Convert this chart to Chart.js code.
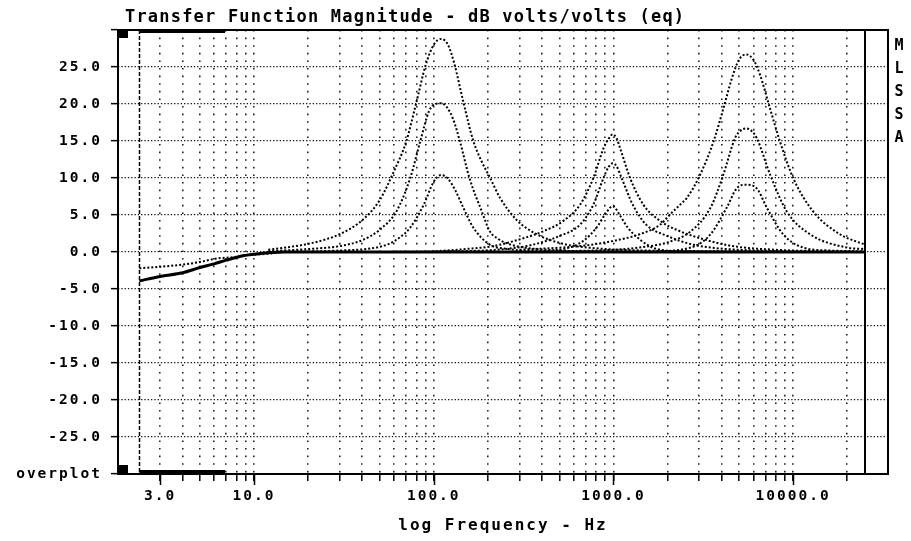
<!DOCTYPE html>
<html lang="en">
<head>
    <meta charset="UTF-8">
    <title>Transfer Function Magnitude</title>
    <style>
        html, body {
            margin: 0;
            padding: 0;
            background-color: #fff;
        }
        .chart-box {
            position: relative;
            width: 911px;
            height: 541px;
        }
    </style>
</head>
<body>
    <div class="chart-box">
        <canvas id="tf-chart"></canvas>
    </div>

    <script src="https://cdn.jsdelivr.net/npm/chart.js"></script>

    <script>
        // axes
        const xMin = 1.75;
        const xMax = 33700;
        const xTickValues = [3, 4, 5, 6, 7, 8, 9, 10, 20, 30, 40, 50, 60, 70, 80, 90, 100,
            200, 300, 400, 500, 600, 700, 800, 900, 1000,
            2000, 3000, 4000, 5000, 6000, 7000, 8000, 9000, 10000, 20000];
        const xLabelValues = [3, 10, 100, 1000, 10000];
        const yMin = -30;
        const yMax = 30;
        const yStep = 5;

        // sweep limits / cursor bar
        const sweepStart = 2.3;
        const sweepEnd = 25000;
        const cursorBar = [2.3, 6.9];

        const titleText = 'Transfer Function Magnitude - dB volts/volts (eq)';
        const axisTitle = 'log Frequency - Hz';
        const sideLetters = ['M', 'L', 'S', 'S', 'A'];

        // flat reference (several overlapping traces)
        const baseFreq = [2.3, 3, 4, 5, 6, 7, 8.7, 10, 12, 15, 20, 25000];
        const baseDb = [-3.9, -3.3, -2.8, -2.1, -1.6, -1.1, -0.5, -0.3, -0.1, 0, 0, 0];

        // upper low-frequency trace
        const lfFreq = [2.3, 3, 4, 5, 6.1, 7.6, 9, 11.8, 15, 20];
        const lfDb = [-2.2, -2.0, -1.7, -1.35, -0.9, -0.7, -0.45, -0.25, 0, 0];

        // 110 Hz band
        const freqA = [12, 15, 20, 25, 30, 40, 50, 60, 70, 80, 90, 100, 110, 120, 130, 146, 166, 185, 206, 234, 290, 374, 525, 800, 1500, 4000, 25000];
        const dbA = [0.3, 0.6, 1.1, 1.7, 2.4, 4.3, 7.0, 10.9, 14.8, 20.2, 25.2, 28.0, 28.8, 28.0, 25.5, 20.3, 15.0, 12.2, 10.0, 7.3, 4.3, 2.4, 1.1, 0.5, 0.2, 0.1, 0];

        const freqB = [12, 20, 30, 40, 50, 62, 74, 84, 94, 102, 110, 118, 128, 140, 158, 185, 205, 224, 260, 320, 420, 700, 25000];
        const dbB = [0.1, 0.4, 0.8, 1.6, 3.0, 5.5, 10.0, 14.9, 19.0, 20.0, 20.1, 19.6, 18.0, 14.9, 10.0, 5.5, 2.8, 1.9, 1.1, 0.6, 0.3, 0.1, 0];

        const freqC = [12, 30, 45, 55, 65, 74, 88, 100, 110, 120, 132, 146, 166, 205, 260, 400, 25000];
        const dbC = [0, 0.2, 0.5, 1.0, 2.0, 3.3, 6.4, 9.5, 10.4, 9.9, 8.3, 6.0, 3.3, 1.0, 0.4, 0.1, 0];

        // 1 kHz band
        const freqD1 = [50, 100, 150, 214, 300, 407, 526, 652, 773, 880, 940, 990, 1040, 1090, 1237, 1466, 1820, 2350, 3200, 4600, 8000, 25000];
        const dbD1 = [0, 0.1, 0.4, 0.8, 1.7, 2.8, 4.2, 6.4, 10.0, 14.0, 15.3, 15.9, 15.4, 14.0, 10.0, 6.4, 4.2, 2.8, 1.7, 0.8, 0.3, 0];

        const freqD2 = [100, 250, 358, 505, 652, 773, 880, 940, 990, 1040, 1110, 1280, 1520, 1980, 2770, 5000, 25000];
        const dbD2 = [0, 0.4, 1.0, 2.2, 3.7, 6.4, 10.0, 11.5, 12.0, 11.6, 10.0, 6.4, 3.7, 2.2, 1.0, 0.3, 0];

        const freqD3 = [300, 526, 680, 805, 900, 990, 1090, 1200, 1400, 1740, 2500, 25000];
        const dbD3 = [0, 0.4, 1.5, 3.3, 5.1, 6.2, 4.9, 3.3, 1.7, 0.4, 0.1, 0];

        // 5.5 kHz band
        const freqE1 = [300, 650, 1000, 1400, 1820, 2070, 2350, 2560, 3030, 3600, 4090, 4550, 5000, 5470, 6000, 6550, 7430, 8450, 10000, 12900, 18200, 25000];
        const dbE1 = [0.3, 0.8, 1.5, 2.4, 3.7, 5.1, 6.4, 7.3, 10.4, 14.9, 19.4, 23.4, 26.0, 26.7, 26.0, 23.9, 19.4, 14.9, 10.0, 5.5, 2.4, 1.0];

        const freqE2 = [500, 1000, 1500, 2000, 2690, 3470, 4080, 4750, 5100, 5470, 5850, 6270, 7430, 9200, 12400, 19900, 25000];
        const dbE2 = [0.1, 0.3, 0.7, 1.3, 2.8, 6.0, 10.4, 15.4, 16.4, 16.7, 16.4, 15.4, 10.5, 5.5, 2.4, 0.6, 0.4];

        const freqE3 = [1500, 2690, 3470, 4270, 4850, 5470, 6270, 7130, 8790, 11350, 16000, 25000];
        const dbE3 = [0, 0.6, 2.4, 6.0, 8.6, 9.1, 8.6, 6.0, 2.4, 0.6, 0.2, 0.1];

        function trace(freqs, dbs, extra) {
            return Object.assign({
                data: freqs.map((f, i) => ({ x: f, y: dbs[i] })),
                borderColor: '#000',
                borderWidth: 2,
                borderDash: [2, 2],
                pointRadius: 0,
                fill: false,
                cubicInterpolationMode: 'monotone'
            }, extra || {});
        }

        const decorations = {
            id: 'decorations',
            beforeUpdate(chart) { chart.ctx.letterSpacing = '2px'; },
            beforeDraw(chart) { chart.ctx.letterSpacing = '2px'; },
            beforeDatasetsDraw(chart) { chart.ctx.letterSpacing = '0px'; },
            afterDraw(chart) {
                const { ctx, chartArea: a, scales: { x } } = chart;
                const line = (x1, y1, x2, y2) => {
                    ctx.beginPath();
                    ctx.moveTo(x1, y1);
                    ctx.lineTo(x2, y2);
                    ctx.stroke();
                };
                ctx.save();
                ctx.strokeStyle = '#000';
                ctx.fillStyle = '#000';

                // frame + end of sweep
                ctx.lineWidth = 2;
                ctx.strokeRect(a.left, a.top, a.right - a.left, a.bottom - a.top);
                const xe = Math.round(x.getPixelForValue(sweepEnd));
                line(xe, a.top, xe, a.bottom);

                // start cursor
                const xs = Math.round(x.getPixelForValue(sweepStart)) + 0.5;
                ctx.lineWidth = 1.5;
                ctx.setLineDash([4, 2]);
                line(xs, a.top, xs, a.bottom);
                ctx.setLineDash([]);

                // cursor bars and corner squares
                const b1 = x.getPixelForValue(cursorBar[0]);
                const b2 = x.getPixelForValue(cursorBar[1]);
                ctx.fillRect(b1, a.top - 1, b2 - b1, 4);
                ctx.fillRect(b1, a.bottom - 4, b2 - b1, 4);
                ctx.fillRect(a.left, a.top - 1, 10, 9);
                ctx.fillRect(a.left, a.bottom - 9, 10, 9);

                // longer ticks at labelled decades
                ctx.lineWidth = 1.5;
                xLabelValues.forEach(v => {
                    const px = Math.round(x.getPixelForValue(v)) + 0.5;
                    line(px, a.bottom, px, a.bottom + 11);
                });

                // title
                ctx.font = 'bold 17px "DejaVu Sans Mono"';
                ctx.letterSpacing = '1.2px';
                ctx.textAlign = 'left';
                ctx.textBaseline = 'alphabetic';
                ctx.fillText(titleText, a.left + 7, 22);

                // side label
                ctx.letterSpacing = '0px';
                ctx.font = 'bold 15px "DejaVu Sans Mono"';
                ctx.textAlign = 'center';
                ctx.textBaseline = 'middle';
                sideLetters.forEach((ch, i) => ctx.fillText(ch, a.right + 11, 46 + 23 * i));
                ctx.restore();
            }
        };

        const tickFont = { family: '"DejaVu Sans Mono"', size: 14.5, weight: 'bold' };

        const ctx = document.getElementById('tf-chart').getContext('2d');
        const chart = new Chart(ctx, {
            type: 'line',
            data: {
                datasets: [
                    trace(baseFreq, baseDb, { borderDash: [], borderWidth: 3, order: 0 }),
                    trace(lfFreq, lfDb),
                    trace(freqA, dbA),
                    trace(freqB, dbB),
                    trace(freqC, dbC),
                    trace(freqD1, dbD1),
                    trace(freqD2, dbD2),
                    trace(freqD3, dbD3),
                    trace(freqE1, dbE1),
                    trace(freqE2, dbE2),
                    trace(freqE3, dbE3)
                ]
            },
            options: {
                responsive: true,
                maintainAspectRatio: false,
                animation: false,
                events: [],
                layout: {
                    padding: { top: 30, right: 23, left: 0, bottom: 0 }
                },
                scales: {
                    x: {
                        type: 'logarithmic',
                        min: xMin,
                        max: xMax,
                        bounds: 'data',
                        afterBuildTicks: scale => {
                            scale.ticks = xTickValues.map(v => ({ value: v }));
                        },
                        afterFit: scale => { scale.height = 67; },
                        ticks: {
                            autoSkip: false,
                            maxRotation: 0,
                            padding: 7,
                            color: '#000',
                            font: tickFont,
                            callback: v => xLabelValues.includes(v) ? v.toFixed(1) : ''
                        },
                        grid: {
                            color: '#222',
                            lineWidth: 1.6,
                            tickLength: 7,
                            tickColor: '#000',
                            tickWidth: 1.5
                        },
                        border: { display: false, dash: [1.6, 6] },
                        title: {
                            display: true,
                            text: axisTitle,
                            color: '#000',
                            font: { family: '"DejaVu Sans Mono"', size: 16, weight: 'bold' },
                            padding: { top: 0, bottom: 6 }
                        }
                    },
                    y: {
                        type: 'linear',
                        min: yMin,
                        max: yMax,
                        afterFit: scale => { scale.width = 118; },
                        ticks: {
                            stepSize: yStep,
                            padding: 9,
                            color: '#000',
                            font: tickFont,
                            callback: v => v === yMin ? 'overplot' : (v === yMax ? '' : v.toFixed(1))
                        },
                        grid: {
                            color: '#111',
                            lineWidth: 1.3,
                            tickLength: 7,
                            tickColor: '#000',
                            tickWidth: 1.5
                        },
                        border: { display: false, dash: [1.3, 2] }
                    }
                },
                plugins: {
                    legend: { display: false },
                    tooltip: { enabled: false },
                    title: { display: false }
                }
            },
            plugins: [decorations]
        });
    </script>
</body>
</html>
